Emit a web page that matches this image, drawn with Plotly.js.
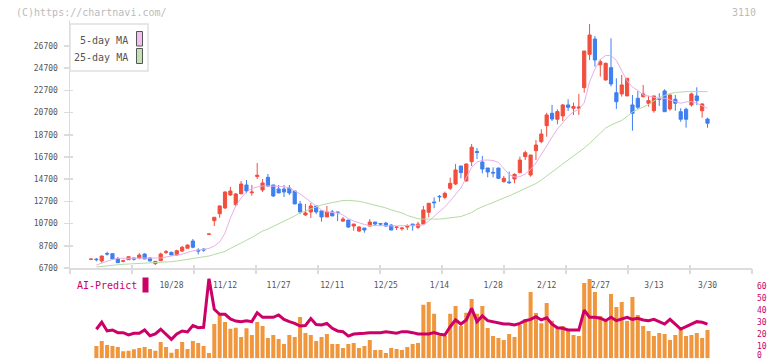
<!DOCTYPE html>
<html><head><meta charset="utf-8">
<script src="https://cdn.plot.ly/plotly-3.0.1.min.js"></script>
<style>html,body{margin:0;padding:0;background:#fff;}#chart{width:772px;height:361px;}</style>
</head><body><div id="chart"></div>
<script>
// ---- data ----
const dates = ['10/6','10/7','10/8','10/9','10/10','10/14','10/15','10/16','10/17','10/20','10/21','10/22','10/23','10/24','10/27','10/28','10/29','10/30','10/31',
'11/4','11/5','11/6','11/7','11/10','11/11','11/12','11/13','11/14','11/17','11/18','11/19','11/20','11/21','11/25','11/26','11/27','11/28',
'12/1','12/2','12/3','12/4','12/5','12/8','12/9','12/10','12/11','12/12','12/15','12/16','12/17','12/18','12/19','12/22','12/23','12/24','12/25','12/26','12/29','12/30',
'1/5','1/6','1/7','1/8','1/9','1/13','1/14','1/15','1/16','1/19','1/20','1/21','1/22','1/23','1/26','1/27','1/28','1/29','1/30',
'2/2','2/3','2/4','2/5','2/6','2/9','2/10','2/12','2/13','2/16','2/17','2/18','2/19','2/20','2/24','2/25','2/26','2/27',
'3/2','3/3','3/4','3/5','3/6','3/9','3/10','3/11','3/12','3/13','3/16','3/17','3/18','3/19','3/23','3/24','3/25','3/26','3/27','3/30'];

const tickLabels = ['10/28','11/12','11/27','12/11','12/25','1/14','1/28','2/12','2/27','3/13','3/30'];
const priceTicks = [6700,8700,10700,12700,14700,16700,18700,20700,22700,24700,26700];
const predictTicks = [10,20,30,40,50,60];
const predictZero = '0';

const open = [7480,7500,7330,8000,7990,7540,7300,7450,7600,7600, 7960,7600,7090,7360,8100,8110,7870,8230,8480,9130,
8320,8400,9740,10960,11590,12110,13280,12400,13390,14180, 13480,14950,13730,14870,14180,13820,13820,13910,13640,12470,
11480,11750,12290,11840,11300,11750,11750,10930,11020,10480, 10030,10300,10480,10840,10700,10750,10570,10350,10240,10390,
10660,10370,10660,11720,12650,13150,13070,13880,14270,15890, 14540,16280,17200,16250,15710,15320,15710,14480,14450,14720,
15290,16730,15080,17270,18080,19520,20640,20100,20400,21390, 21090,21100,22950,25950,27330,25000,23640,24750,22490,22380,
22200,21390,21990,22140,21540,20870,21950,22650,21030,21900, 20780,21000,21390,22200,20870,20120];

const high = [7520,7600,7800,8170,8000,7690,7450,7740,7630,8050, 8020,7690,7320,8080,8320,8170,8350,8680,8800,9310,
8480,8480,9760,11270,12350,13610,14000,13460,14540,14630, 14180,16160,14720,15170,14180,14180,14180,14180,13640,12740,
12470,12560,12290,11840,12290,11930,11750,11300,11020,10660, 10480,10300,11110,10840,10750,10840,10660,10480,10360,10640,
10660,10870,12290,12530,13070,13280,13580,14840,16070,15890, 16130,17870,17500,16790,15710,15770,15710,14990,15380,15230,
16730,17270,16880,18230,19200,20690,21390,21000,21480,21900, 21600,22380,26250,28680,27600,25510,25200,27390,23790,24090,
23790,22290,22650,23190,22200,22200,22450,22800,22290,22290, 21090,21150,22500,22980,21540,20240];

const low = [7460,7300,7180,7810,7450,7180,7210,7430,7360,7480, 7500,7330,6970,7360,7960,7870,7810,8140,8480,8480,
7930,8170,9740,10480,11230,12020,13190,12260,13340,13430, 13210,14720,13550,14000,13100,13460,13100,13280,12470,11570,
11390,11210,11570,10870,11300,11390,10930,10850,10300,10060, 9940,9880,10480,10480,10480,10390,10120,10120,10060,10120,
10060,10210,10660,11270,12080,12670,12890,13730,14180,14780, 14480,15890,16520,15230,14870,14870,14720,14390,14270,14330,
15290,16430,14930,16430,17940,18530,19940,19650,19940,20850, 20490,20490,22500,25440,24840,23940,23580,23060,21030,22140,
22200,19070,21030,22050,21240,20690,21300,20780,20870,20870, 19880,19340,21240,21390,20240,19340];

const close = [7500,7450,7780,7960,7510,7180,7350,7720,7500,7870, 7510,7330,7300,7960,8160,7870,8260,8570,8770,8570,
8230,8320,9760,11270,12290,13550,13640,13370,14270,13640, 13540,15050,14360,14090,13190,13460,13550,13460,12470,11750,
11660,12290,11750,11300,11750,11390,11700,11110,10390,10660, 10390,10120,10840,10660,10660,10480,10120,10390,10300,10450,
10510,10660,11930,12530,12580,13120,13430,14330,15530,15290, 16070,17580,17100,15620,15350,15260,14780,14780,14390,15140,
16430,17090,16880,17780,18770,20490,20120,20790,21390,21180, 21240,21200,26250,27690,25440,25290,25140,23280,21680,23190,
23790,20640,21180,22380,21780,22200,21900,20780,22290,21540, 20100,20100,22380,21780,21480,19740];

const ma5 = [null,6970,7150,7330,7470,7570,7570,7600,7600,7600, 7600,7600,7570,7600,7690,7800,7870,7940,8100,8250,
8320,8370,8460,8680,9040,9850,11200,12290,13010,13550, 13860,14000,14090,14090,14090,14090,14040,13910,13640,13370,
13010,12690,12290,11930,11760,11700,11660,11480,11160,10930, 10750,10620,10530,10510,10510,10510,10500,10500,10510,10510,
10510,10530,10570,10930,11340,11750,12200,12740,13320,13910, 14850,15760,16250,16410,16430,16380,16210,15660,15120,14900,
14930,15170,15580,16160,16880,17690,18500,19220,19760,20350, 20780,20980,21570,23460,24630,25490,25850,25850,25400,24410,
23550,23010,22700,22290,22170,22060,21990,21990,21840,21660, 21540,21660,21690,21540,21340,21090];

const ma25 = [null,6790,6840,6900,6950,7030,7040,7060,7080,7110, 7130,7180,7200,7200,7240,7270,7330,7400,7470,7530,
7580,7650,7780,7920,8080,8190,8460,8730,8950,9200, 9450,9720,10030,10210,10440,10660,10890,11160,11390,11660,
11850,12060,12220,12380,12490,12600,12710,12780,12790,12780, 12710,12600,12490,12380,12240,12110,11930,11790,11660,11430,
11250,11140,11110,11100,11090,11110,11160,11210,11270,11340, 11520,11700,12000,12240,12420,12600,12830,13010,13190,13420,
13600,13860,14090,14310,14630,14990,15350,15660,16020,16360, 16750,17110,17510,17920,18370,18860,19310,19580,19760,19990,
20350,20760,20980,21210,21430,21750,22040,22240,22420,22510, 22560,22590,22590,22590,22590,22590];

const volume = [null,10.2,14.3,11.0,10.2,9.3,5.8,6.3,7.4,8.5, 9.3,7.7,6.3,13.5,9.3,4.6,7.7,13.5,7.7,14.3,
12.6,10.2,4.4,28.3,36.9,30.0,24.5,25.3,17.6,24.8, 19.3,30.0,26.7,16.8,19.3,15.9,11.8,19.3,17.6,34.1,
21.0,19.3,14.3,17.6,20.1,11.8,11.8,8.5,11.8,12.6, 8.5,10.2,15.1,6.9,6.9,4.4,8.5,7.7,6.9,9.3,
11.8,12.6,44.3,46.5,36.9,18.4,18.4,36.9,43.2,26.7, 37.7,49.0,36.9,43.2,25.0,18.4,16.8,15.1,20.1,17.6,
27.5,32.5,54.8,37.4,29.0,45.7,31.0,25.5,26.7,22.6, 19.3,18.4,62.2,65.5,54.8,35.0,31.7,53.1,42.4,46.5,
30.8,50.7,35.8,26.7,22.6,18.4,20.9,20.1,15.1,19.3, 24.2,18.4,19.3,20.9,16.8,23.4];

const aiPredict = [null,24.0,29.8,22.6,23.4,21.2,21.2,19.3,20.7,20.7, 23.4,18.7,20.1,24.0,20.1,15.7,20.1,22.6,21.8,27.0,
25.3,25.6,66.1,40.5,36.4,36.4,32.5,30.8,30.3,31.1, 30.3,37.7,33.9,33.9,33.9,35.8,32.2,30.3,28.9,26.7,
27.1,32.8,27.9,27.5,28.9,24.8,22.6,22.0,18.4,20.1, 20.7,20.7,21.2,21.2,21.2,22.0,21.2,20.7,22.0,22.0,
21.2,20.1,20.1,20.1,21.2,19.9,19.3,26.1,31.7,28.3, 31.7,41.3,30.3,35.0,31.1,30.3,29.4,28.3,28.3,27.5,
28.9,31.1,32.2,34.4,31.7,33.4,28.2,25.2,24.8,23.4, 23.4,23.4,39.9,33.9,33.9,33.1,31.1,33.9,31.1,32.2,
33.9,32.2,33.1,31.7,31.1,32.2,30.3,28.3,32.2,28.3, 24.2,26.1,28.3,30.3,29.8,28.3];

// ---- styling / layout ----
const W = 772, H = 361;
const px = v => v / W;
const py = v => 1 - v / H;
const RED = '#f24e3d', BLUE = '#3f7fef', AXIS = '#dcdcdc', MAG = '#cc0066';
const MONO = 'DejaVu Sans Mono, monospace';

const traces = [
  {type:'scatter', mode:'lines', x:dates, y:ma25, xaxis:'x', yaxis:'y', line:{color:'#b4dba4', width:1}, hoverinfo:'skip', showlegend:false},
  {type:'scatter', mode:'lines', x:dates, y:ma5, xaxis:'x', yaxis:'y', line:{color:'#e8b0e8', width:1}, hoverinfo:'skip', showlegend:false},
  {type:'candlestick', x:dates, open:open, high:high, low:low, close:close, xaxis:'x', yaxis:'y',
   increasing:{line:{color:RED, width:1}, fillcolor:RED},
   decreasing:{line:{color:BLUE, width:1}, fillcolor:BLUE},
   whiskerwidth:0, hoverinfo:'skip', showlegend:false},
  {type:'bar', x:dates, y:volume, xaxis:'x', yaxis:'y2', marker:{color:'#f0963c', line:{width:0}}, hoverinfo:'skip', showlegend:false},
  {type:'scatter', mode:'lines', x:dates, y:aiPredict, xaxis:'x', yaxis:'y2', line:{color:MAG, width:3}, hoverinfo:'skip', showlegend:false},
  {type:'scatter', mode:'lines', x:[], y:[], xaxis:'x2', yaxis:'y', hoverinfo:'skip', showlegend:false},
  {type:'scatter', mode:'lines', x:[], y:[], xaxis:'x3', yaxis:'y', hoverinfo:'skip', showlegend:false},
  {type:'scatter', mode:'lines', x:[], y:[], xaxis:'x', yaxis:'y3', hoverinfo:'skip', showlegend:false}
];

const xDomain = [px(70), px(752)];
const priceRange = [6700, 6700 + (268 - 20) * 20000 / 222];
const subRange = [0, (358.3 - 278.4) / 1.21];

const layout = {
  width: W, height: H,
  margin: {l:0, r:0, t:0, b:0, pad:0},
  paper_bgcolor:'#fff', plot_bgcolor:'rgba(0,0,0,0)',
  showlegend:false, hovermode:false,
  bargap:0.25, boxgap:0.15,
  xaxis: {type:'category', domain:xDomain, range:[-3.92, 123.3], anchor:'y',
    showline:true, linecolor:AXIS, linewidth:1.5, showgrid:false, zeroline:false,
    ticks:'', tickvals:tickLabels, ticktext:tickLabels, ticklabelstandoff:9,
    tickfont:{family:MONO, size:8, color:'#555'}, rangeslider:{visible:false}, fixedrange:true},
  xaxis2: {overlaying:'x', anchor:'y', range:[0,11], tick0:0, dtick:1, ticks:'outside', ticklen:5,
    tickcolor:AXIS, tickwidth:1.5, showticklabels:false, showline:false, showgrid:false, zeroline:false, fixedrange:true},
  xaxis3: {overlaying:'x', anchor:'y', range:[0,11], tick0:0, dtick:1, ticks:'inside', ticklen:3,
    tickcolor:AXIS, tickwidth:1.5, showticklabels:false, showline:false, showgrid:false, zeroline:false, fixedrange:true},
  yaxis: {domain:[py(268), py(20)], range:priceRange, anchor:'x',
    showline:true, linecolor:AXIS, linewidth:1.5, showgrid:false, zeroline:false,
    tickmode:'array', tickvals:priceTicks, ticktext:priceTicks.map(String),
    ticks:'outside', ticklen:5, tickcolor:AXIS, tickwidth:1.5, ticklabelstandoff:4,
    tickfont:{family:MONO, size:8, color:'#555'}, fixedrange:true},
  yaxis3: {overlaying:'y', anchor:'x', range:priceRange, side:'left', tickmode:'array', tickvals:priceTicks,
    ticks:'inside', ticklen:3, tickcolor:AXIS, tickwidth:1.5, showticklabels:false,
    showline:false, showgrid:false, zeroline:false, fixedrange:true},
  yaxis2: {domain:[py(358.3), py(278.4)], range:subRange, anchor:'x', side:'right',
    showline:false, showgrid:false, zeroline:false, ticks:'',
    tickmode:'array', tickvals:predictTicks, ticktext:predictTicks.map(String), ticklabelstandoff:4,
    tickfont:{family:MONO, size:8, color:MAG}, fixedrange:true},
  shapes: [
    {type:'rect', xref:'paper', yref:'paper', x0:px(70), x1:px(148), y0:py(71), y1:py(24),
     line:{color:'#e0e0e0', width:1.5}, fillcolor:'#fff', layer:'above'},
    {type:'rect', xref:'paper', yref:'paper', x0:px(136.5), x1:px(142.5), y0:py(46), y1:py(31.5),
     line:{color:'#555', width:1}, fillcolor:'#f0c0f0', layer:'above'},
    {type:'rect', xref:'paper', yref:'paper', x0:px(136.5), x1:px(142.5), y0:py(63.5), y1:py(48.5),
     line:{color:'#555', width:1}, fillcolor:'#c2e2b2', layer:'above'},
    {type:'rect', xref:'paper', yref:'paper', x0:px(142.5), x1:px(148.5), y0:py(292.5), y1:py(277.5),
     line:{width:0}, fillcolor:MAG, layer:'above'}
  ],
  annotations: [
    {text:'(C)https://chartnavi.com/', xref:'paper', yref:'paper', x:px(14), y:py(12), xanchor:'left', yanchor:'middle',
     showarrow:false, font:{family:MONO, size:10, color:'#bbb'}},
    {text:'3110', xref:'paper', yref:'paper', x:px(758), y:py(12), xanchor:'right', yanchor:'middle',
     showarrow:false, font:{family:MONO, size:10, color:'#bbb'}},
    {text:'5-day MA', xref:'paper', yref:'paper', x:px(130), y:py(40.5), xanchor:'right', yanchor:'middle',
     showarrow:false, font:{family:MONO, size:10, color:'#555'}},
    {text:'25-day MA', xref:'paper', yref:'paper', x:px(130), y:py(57), xanchor:'right', yanchor:'middle',
     showarrow:false, font:{family:MONO, size:10, color:'#555'}},
    {text:'AI-Predict', xref:'paper', yref:'paper', x:px(75), y:py(285.5), xanchor:'left', yanchor:'middle',
     showarrow:false, font:{family:MONO, size:10, color:MAG}},
    {text:predictZero, xref:'paper', yref:'paper', x:px(756), y:py(361), xanchor:'left', yanchor:'bottom',
     showarrow:false, borderpad:0, font:{family:MONO, size:8, color:MAG}}
  ]
};

Plotly.newPlot('chart', traces, layout, {staticPlot:true, displayModeBar:false});
</script>
</body></html>
